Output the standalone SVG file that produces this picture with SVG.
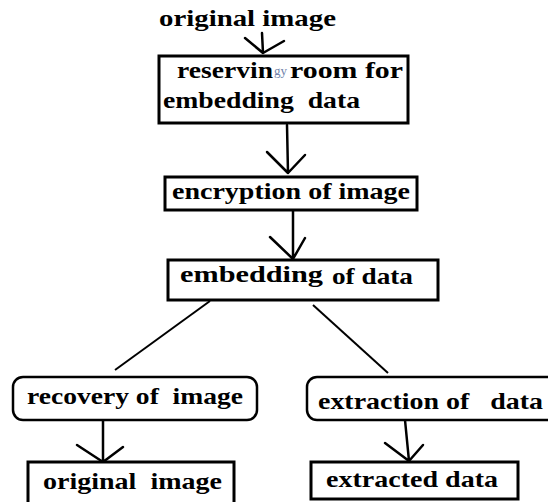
<svg xmlns="http://www.w3.org/2000/svg" width="548" height="502" viewBox="0 0 548 502">
<style>
.box{fill:#fff;stroke:#000;stroke-width:3}
.rbox{fill:#fff;stroke:#000;stroke-width:2.5}
.t{font-family:"Liberation Serif","Times New Roman",serif;font-weight:bold;font-size:23px;fill:#000;white-space:pre}
.s{font-family:"Liberation Serif","Times New Roman",serif;font-size:12px;fill:#7082aa}
.c{fill:none;stroke:#000;stroke-width:2.5;stroke-linecap:round;stroke-linejoin:round}
.d{fill:none;stroke:#000;stroke-width:2}
</style>
<rect width="548" height="502" fill="#fff"/>
<g id="title"><text class="t" x="159" y="26" textLength="177" lengthAdjust="spacingAndGlyphs">original image</text></g>
<g id="connectors">
<path class="c" d="M262,33 L263,53 M245,38 L263,53 L284,41"/>
<path class="c" d="M287,125 L288,173 M267,152 L288,173 L305,155"/>
<path class="c" d="M293,210 L293,259 M270,237 L293,259 L305,238"/>
<path class="d" d="M210,301 L115,370"/>
<path class="d" d="M313,305 L388,373"/>
<path class="c" d="M103,420 L103,462 M77,445 L103,462 L123,447"/>
<path class="c" d="M405,420 L409,461 M385,443 L409,461 L423,445"/>
</g>
<g id="n1"><rect class="box" x="159" y="56" width="249" height="67"/>
<text class="t" x="177" y="78" textLength="96" lengthAdjust="spacingAndGlyphs">reservin</text>
<text class="s" x="274" y="75" textLength="13" lengthAdjust="spacingAndGlyphs">gy</text>
<text class="t" x="290" y="78" textLength="113" lengthAdjust="spacingAndGlyphs">room for</text>
<text class="t" x="163" y="108" textLength="197" lengthAdjust="spacingAndGlyphs">embedding  data</text></g>
<g id="n2"><rect class="box" x="165" y="177" width="252" height="33"/>
<text class="t" x="172" y="199" textLength="238" lengthAdjust="spacingAndGlyphs">encryption of image</text></g>
<g id="n3"><rect class="box" x="168" y="260" width="270" height="40"/>
<text class="t" x="180" y="282" textLength="143" lengthAdjust="spacingAndGlyphs">embedding</text>
<text class="t" x="332" y="284" textLength="81" lengthAdjust="spacingAndGlyphs">of data</text></g>
<g id="n4"><rect class="rbox" x="13" y="377" width="244" height="43" rx="10"/>
<text class="t" x="27" y="404" textLength="216" lengthAdjust="spacingAndGlyphs">recovery of  image</text></g>
<g id="n5"><rect class="box" x="28" y="462" width="206" height="45"/>
<text class="t" x="43" y="489" textLength="179" lengthAdjust="spacingAndGlyphs">original  image</text></g>
<g id="n6"><rect class="rbox" x="307" y="377" width="250" height="43" rx="10"/>
<text class="t" x="318" y="409" textLength="225" lengthAdjust="spacingAndGlyphs">extraction of   data</text></g>
<g id="n7"><rect class="box" x="311" y="462" width="207" height="37"/>
<text class="t" x="326" y="487" textLength="172" lengthAdjust="spacingAndGlyphs">extracted data</text></g>
</svg>
